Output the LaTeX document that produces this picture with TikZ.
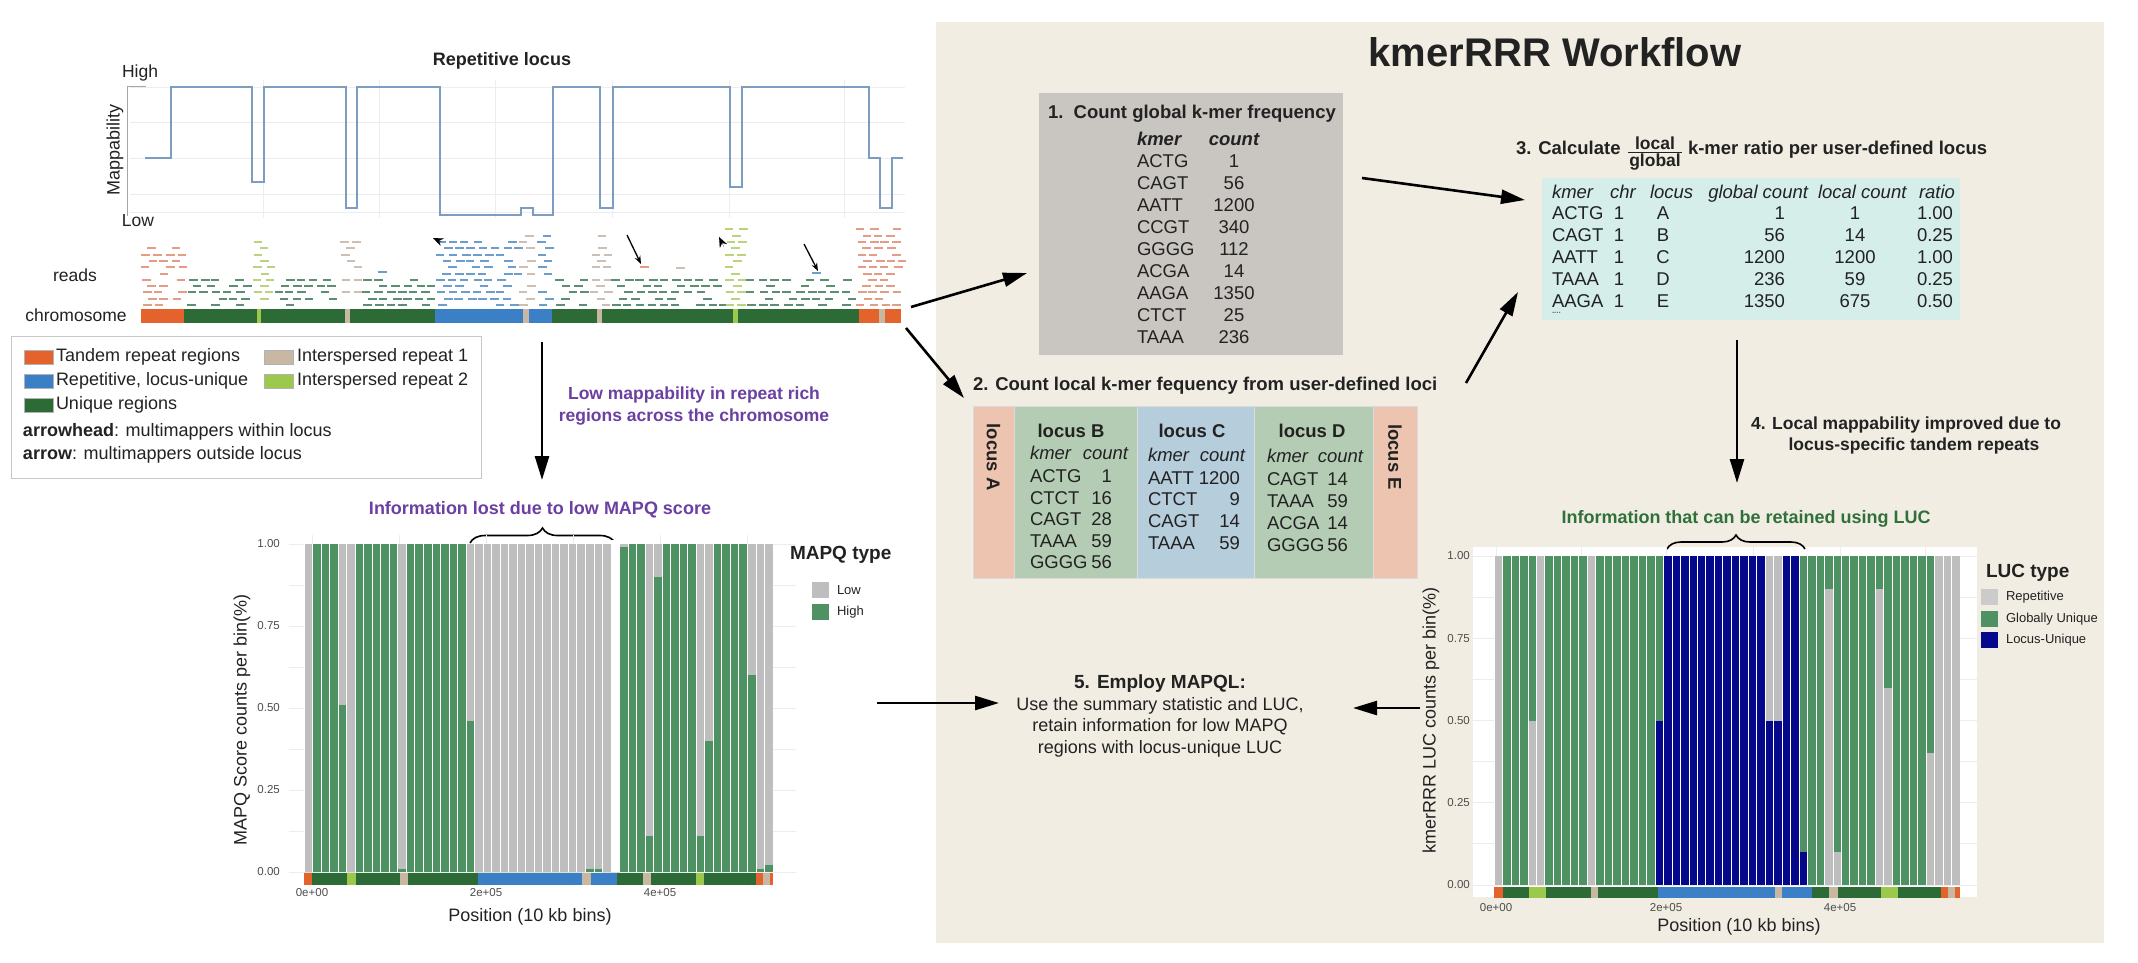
\documentclass[tikz,border=0pt]{standalone}
\usepackage{fontspec}
\setmainfont{Liberation Sans}
\usetikzlibrary{arrows.meta,decorations.pathreplacing}
\definecolor{cOr}{HTML}{E4632D}
\definecolor{cBl}{HTML}{3B7FC6}
\definecolor{cDG}{HTML}{2C6B36}
\definecolor{cTan}{HTML}{C8B7A2}
\definecolor{cLG}{HTML}{9CC94C}
\definecolor{barG}{HTML}{4E9162}
\definecolor{barGr}{HTML}{BEBEBE}
\definecolor{barB}{HTML}{06088C}
\definecolor{beige}{HTML}{F1EDE3}
\definecolor{boxone}{HTML}{C9C6C1}
\definecolor{boxthree}{HTML}{D5EEEA}
\definecolor{locAc}{HTML}{EDC4AF}
\definecolor{locGc}{HTML}{B4CCB4}
\definecolor{locCc}{HTML}{B6CDDC}
\definecolor{purp}{HTML}{6C3FA2}
\definecolor{grn}{HTML}{2F7139}
\definecolor{mapc}{HTML}{7D9DC0}
\definecolor{rdO}{HTML}{E59C84}
\definecolor{rdG}{HTML}{5B8E72}
\definecolor{rdB}{HTML}{6D9DCC}
\definecolor{rdT}{HTML}{CDBFB3}
\definecolor{rdLG}{HTML}{BBD37F}
\definecolor{tickc}{HTML}{4D4D4D}
\definecolor{txtc}{HTML}{222222}
% reads generator: x1, x2, ytop, colour
\newcommand\rreg[4]{%
  \pgfmathtruncatemacro\nr{(305-#3)/6.3}%
  \pgfmathtruncatemacro\nc{(#2-#1)/12}%
  \pgfmathsetmacro\xe{#2-7}%
  \foreach \r in {0,...,\nr}{%
    \foreach \c in {0,...,\nc}{%
      \pgfmathsetmacro\pp{rnd}%
      \pgfmathsetmacro\xx{#1+12*\c+6*mod(\r,2)+3*rnd-1.5}%
      \pgfmathsetmacro\yy{305-6.3*\r}%
      \ifdim\pp pt>0.22pt
        \ifdim\xx pt<\xe pt
          \draw[#4, line width=2pt] (\xx,\yy) -- ++(8.5,0);
        \fi
      \fi
    }%
  }%
}
\begin{document}
\begin{tikzpicture}[x=1pt,y=-1pt,
  tx/.style={inner sep=0pt, outer sep=0pt, text=txtc, font=\fontsize{18}{21.6}\selectfont},
  bt/.style={tx, font=\fontsize{18.5}{22}\selectfont\bfseries},
  bit/.style={tx, font=\fontsize{18.5}{22}\selectfont\bfseries\itshape},
  it/.style={tx, font=\fontsize{18.5}{22}\selectfont\itshape},
  rg/.style={tx, font=\fontsize{18.5}{22}\selectfont},
  sm/.style={tx, font=\fontsize{13}{15}\selectfont},
  tick/.style={inner sep=0pt, text=tickc, font=\fontsize{11.5}{13}\selectfont},
  axt/.style={tx, font=\fontsize{18}{21}\selectfont},
  bigarr/.style={line width=2.6pt, -{Triangle[length=24pt,width=14pt]}},
  thinarr/.style={line width=1.3pt, -{Stealth[length=8pt,width=6pt]}},
  cell/.style={inner sep=0pt, outer sep=0pt, anchor=north west, draw=black!14, line width=0.7pt},
  lkey/.style={inner sep=0pt, outer sep=0pt, minimum width=29pt, minimum height=14pt, draw=black!30, line width=0.4pt},
  pbrace/.style={decorate, decoration={brace, amplitude=15pt}, line width=1.6pt},
  grid/.style={black!7, line width=0.8pt}
]
\useasboundingbox (0,0) rectangle (2138,962);
\fill[white] (0,0) rectangle (2138,962);

% ================= beige workflow panel =================
\fill[beige] (936,22) rectangle (2104,943);
\node[tx, font=\fontsize{40}{46}\selectfont\bfseries] (title) at (1555,52) {kmerRRR Workflow};

% ================= left: mappability plot =================
\foreach \yy in {87,122,158,194,212}{\draw[grid] (130,\yy) -- (905,\yy);}
\foreach \xx in {263,379,495,612,729.5,844}{\draw[grid] (\xx,80) -- (\xx,218);}
\draw[black!35, line width=1pt] (146,86) -- (127,86) -- (127,216);
\node[bt, font=\fontsize{18}{21}\selectfont\bfseries] (replocus) at (502,61) {Repetitive locus};
\node[tx, font=\fontsize{17.5}{21}\selectfont] (high) at (140,73) {High};
\node[tx, font=\fontsize{17.5}{21}\selectfont] (low) at (138,221) {Low};
\node[tx, font=\fontsize{18}{21}\selectfont, rotate=90] (mapl) at (115,150) {Mappability};
\draw[mapc, line width=1.4pt, line join=miter]
  (145,158) -- (171,158) -- (171,87) -- (252,87) -- (252,182) -- (264,182) -- (264,87)
  -- (346,87) -- (346,208) -- (357,208) -- (357,87) -- (440,87) -- (440,215) -- (521,215)
  -- (521,208) -- (533,208) -- (533,215) -- (553,215) -- (553,87) -- (600,87) -- (600,208)
  -- (613,208) -- (613,87) -- (730,87) -- (730,187) -- (742,187) -- (742,87) -- (869,87)
  -- (869,158) -- (880,158) -- (880,208) -- (892,208) -- (892,158) -- (903,158);

% reads
\pgfmathsetseed{11}
\rreg{142}{188}{242}{rdO}
\rreg{188}{253}{277}{rdG}
\rreg{274}{340}{277}{rdG}
\rreg{362}{436}{277}{rdG}
\rreg{254}{274}{232}{rdLG}
\rreg{341}{362}{233}{rdT}
\rreg{437}{522}{240}{rdB}
\rreg{520}{538}{232}{rdT}
\rreg{538}{555}{232}{rdB}
\rreg{556}{591}{277}{rdG}
\rreg{591}{612}{231}{rdT}
\rreg{612}{726}{277}{rdG}
\rreg{726}{747}{229}{rdLG}
\rreg{747}{857}{277}{rdG}
\rreg{857}{905}{229}{rdO}
\draw[rdO, line width=2pt] (640,267) -- ++(9,0);
\draw[rdT, line width=2pt] (676,268) -- ++(9,0);
\draw[rdB, line width=2pt] (812,273) -- ++(9,0);
\draw[rdB, line width=2pt] (378,272) -- ++(9,0);
% arrowheads and arrows on reads
\coordinate (ah1a) at (442,242); \coordinate (ah1b) at (433,238);
\coordinate (ah2a) at (724,247); \coordinate (ah2b) at (719,237);
\draw[line width=0.1pt, -{Stealth[length=10pt,width=8pt]}] (ah1a) -- (ah1b);
\draw[line width=0.1pt, -{Stealth[length=10pt,width=8pt]}] (ah2a) -- (ah2b);
\coordinate (ra1s) at (627,235); \coordinate (ra1e) at (641,264);
\coordinate (ra2s) at (804,244); \coordinate (ra2e) at (818,271);
\draw[thinarr] (ra1s) -- (ra1e);
\draw[thinarr] (ra2s) -- (ra2e);

% chromosome bar
\foreach \a/\b/\c in {141/184/cOr,184/257/cDG,257/261/cLG,261/345/cDG,345/350/cTan,350/435/cDG,
  435/523/cBl,523/529/cTan,529/552/cBl,552/597/cDG,597/602/cTan,602/733/cDG,733/738/cLG,
  738/858.6/cDG,858.6/879/cOr,879/885/cTan,885/901/cOr}{\fill[\c] (\a,309) rectangle (\b,323);}
\node[tx, font=\fontsize{17.5}{21}\selectfont] (readsl) at (75,275) {reads};
\node[tx, font=\fontsize{17.5}{21}\selectfont] (chroml) at (76,315) {chromosome};

% legend box
\node[inner sep=0pt, outer sep=0pt, anchor=north west, draw=black!22, line width=1pt,
  minimum width=470pt, minimum height=142pt] (legbox) at (11,336) {};
\node[lkey, fill=cOr] (k1) at (38.5,357) {};
\node[tx, anchor=west] (k1t) at (56,357) {Tandem repeat regions};
\node[lkey, fill=cTan] (k2) at (279,357) {};
\node[tx, anchor=west] (k2t) at (297,357) {Interspersed repeat 1};
\node[lkey, fill=cBl] (k3) at (38.5,381) {};
\node[tx, anchor=west] (k3t) at (56,381) {Repetitive, locus-unique};
\node[lkey, fill=cLG] (k4) at (279,381) {};
\node[tx, anchor=west] (k4t) at (297,381) {Interspersed repeat 2};
\node[lkey, fill=cDG] (k5) at (38.5,405) {};
\node[tx, anchor=west] (k5t) at (56,405) {Unique regions};
\node[tx, anchor=west] (k6t) at (23,432) {\textbf{arrowhead}: multimappers within locus};
\node[tx, anchor=west] (k7t) at (23,455) {\textbf{arrow}: multimappers outside locus};

% left down arrow and purple text
\coordinate (a6s) at (542,342); \coordinate (a6e) at (542,480);
\draw[bigarr] (a6s) -- (a6e);
\node[tx, font=\fontsize{17.5}{21.5}\selectfont\bfseries, text=purp, align=center] (lowmap) at (694,406)
  {Low mappability in repeat rich\\regions across the chromosome};
\node[tx, font=\fontsize{18}{21}\selectfont\bfseries, text=purp] (infolost) at (540,510) {Information lost due to low MAPQ score};
\draw[pbrace] (470,543) -- (615,543);

% ================= MAPQ plot =================
\foreach \v in {0,0.125,...,1.01}{\draw[grid] (289,{872-328*\v}) -- (796,{872-328*\v});}
\foreach \xx in {312,399,486,573,660,747}{\draw[grid] (\xx,535) -- (\xx,886);}
\foreach \f [count=\i from 0] in {0,1,1,1,.51,0,1,1,1,1,1,.01,1,1,1,1,1,1,1,.46,0,0,0,0,0,0,0,0,0,0,0,0,0,.01,.01,0,0,.99,1,1,.11,.9,1,1,1,1,.11,.4,1,1,1,1,.6,.01,.02}{
  \pgfmathsetmacro\xl{304+\i*8.527}
  \fill[barGr] (\xl,544) rectangle ++(8.527,328);
  \fill[barG] (\xl,872) rectangle ++(8.527,-328*\f);
  \draw[white, line width=0.8pt] (\xl,544) -- (\xl,872);
}
\fill[white] (611,540) rectangle (619.6,872);
\foreach \a/\b/\c in {304/312/cOr,312/347/cDG,347/356/cLG,356/400/cDG,400/408/cTan,408/478/cDG,
  478/582/cBl,582/591/cTan,591/617/cBl,617/643/cDG,643/651/cTan,651/695.5/cDG,695.5/703.5/cLG,
  703.5/756/cDG,756/763/cOr,763/770/cTan,770/773/cOr}{\fill[\c] (\a,873) rectangle (\b,885);}
\foreach \v/\lab in {0/0.00,0.25/0.25,0.5/0.50,0.75/0.75,1/1.00}{
  \node[tick, anchor=east] (mq\lab) at (280,{872-328*\v}) {\lab};}
\node[tick] (mqx0) at (312,893) {0e+00};
\node[tick] (mqx2) at (486,893) {2e+05};
\node[tick] (mqx4) at (660,893) {4e+05};
\node[axt] (mqxt) at (530,917) {Position (10 kb bins)};
\node[axt, rotate=90] (mqyt) at (242,720) {MAPQ Score counts per bin(\%)};
\node[tx, font=\fontsize{19}{22}\selectfont\bfseries, anchor=base west] (mqleg) at (790,559) {MAPQ type};
\node[lkey, draw=none, minimum width=17pt, minimum height=16pt, fill=barGr] (mqk1) at (820.5,590) {};
\node[sm, anchor=west] (mqk1t) at (837,590) {Low};
\node[lkey, draw=none, minimum width=17pt, minimum height=16pt, fill=barG] (mqk2) at (820.5,612) {};
\node[sm, anchor=west] (mqk2t) at (837,612) {High};

% ================= step 1 box =================
\node[inner sep=0pt, outer sep=0pt, anchor=north west, fill=boxone, minimum width=304pt, minimum height=262pt] (box1) at (1039,93) {};
\node[bt, anchor=base west] (b1t) at (1048,118) {1.\ \ Count global k-mer frequency};
\node[bit, anchor=base west] (b1hk) at (1137,145) {kmer};
\node[bit, anchor=base] (b1hc) at (1234,145) {count};
\foreach \k/\c [count=\i from 0] in {ACTG/1,CAGT/56,AATT/1200,CCGT/340,GGGG/112,ACGA/14,AAGA/1350,CTCT/25,TAAA/236}{
  \node[rg, anchor=base west] (bk\i) at (1137,{167+22.1*\i}) {\k};
  \node[rg, anchor=base] (bc\i) at (1234,{167+22.1*\i}) {\c};
}

% ================= step 3 =================
\node[bt, anchor=base west] (s3a) at (1516,154) {3. Calculate};
\node[tx, font=\fontsize{17.5}{20}\selectfont\bfseries, anchor=base] (s3num) at (1655,149) {local};
\draw[txtc, line width=1.4pt] (1628,152.5) -- (1682,152.5);
\node[tx, font=\fontsize{17.5}{20}\selectfont\bfseries, anchor=base] (s3den) at (1655,166) {global};
\node[bt, anchor=base west] (s3b) at (1688,154) {k-mer ratio per user-defined locus};
\node[inner sep=0pt, outer sep=0pt, anchor=north west, fill=boxthree, minimum width=418pt, minimum height=142pt] (box3) at (1542,178) {};
\node[it, anchor=base west] (h1) at (1552,198) {kmer};
\node[it, anchor=base west] (h2) at (1610,198) {chr};
\node[it, anchor=base west] (h3) at (1650,198) {locus};
\node[it, anchor=base east] (h4) at (1808,198) {global count};
\node[it, anchor=base west] (h5) at (1818,198) {local count};
\node[it, anchor=base east] (h6) at (1955,198) {ratio};
\foreach \k/\l/\g/\lc/\r [count=\i from 0] in {ACTG/A/1/1/1.00,CAGT/B/56/14/0.25,AATT/C/1200/1200/1.00,TAAA/D/236/59/0.25,AAGA/E/1350/675/0.50}{
  \node[rg, anchor=base west] (r\i a) at (1552,{219.5+22*\i}) {\k};
  \node[rg, anchor=base] (r\i b) at (1619,{219.5+22*\i}) {1};
  \node[rg, anchor=base] (r\i c) at (1663,{219.5+22*\i}) {\l};
  \node[rg, anchor=base east] (r\i d) at (1785,{219.5+22*\i}) {\g};
  \node[rg, anchor=base] (r\i e) at (1855,{219.5+22*\i}) {\lc};
  \node[rg, anchor=base east] (r\i f) at (1953,{219.5+22*\i}) {\r};
}
\node[tx, font=\fontsize{8}{9}\selectfont\bfseries, anchor=west, text=black!60] (dots) at (1552,313) {....};

% ================= step 2 =================
\node[bt, anchor=base west] (s2) at (973,390) {2. Count local k-mer fequency from user-defined loci};
\node[cell, fill=locAc, minimum width=41pt, minimum height=172pt] (locA) at (973,406) {};
\node[cell, fill=locGc, minimum width=123pt, minimum height=172pt] (locB) at (1014,406) {};
\node[cell, fill=locCc, minimum width=117pt, minimum height=172pt] (locC) at (1137,406) {};
\node[cell, fill=locGc, minimum width=119pt, minimum height=172pt] (locD) at (1254,406) {};
\node[cell, fill=locAc, minimum width=44pt, minimum height=172pt] (locE) at (1373,406) {};
\node[bt, rotate=-90] (locAt) at (993.5,457) {locus A};
\node[bt, rotate=-90] (locEt) at (1395,457) {locus E};
\node[bt, anchor=base] (locBt) at (1071,437) {locus B};
\node[bt, anchor=base] (locCt) at (1192,437) {locus C};
\node[bt, anchor=base] (locDt) at (1312,437) {locus D};
\node[it, anchor=base west] (lBk) at (1030,459) {kmer};
\node[it, anchor=base east] (lBc) at (1128,459) {count};
\node[it, anchor=base west] (lCk) at (1148,461) {kmer};
\node[it, anchor=base east] (lCc) at (1245,461) {count};
\node[it, anchor=base west] (lDk) at (1267,462) {kmer};
\node[it, anchor=base east] (lDc) at (1363,462) {count};
\foreach \k/\c [count=\i from 0] in {ACTG/1,CTCT/16,CAGT/28,TAAA/59,GGGG/56}{
  \node[rg, anchor=base west] (lb\i) at (1030,{482.5+21.5*\i}) {\k};
  \node[rg, anchor=base east] (lbc\i) at (1112,{482.5+21.5*\i}) {\c};
}
\foreach \k/\c [count=\i from 0] in {AATT/1200,CTCT/9,CAGT/14,TAAA/59}{
  \node[rg, anchor=base west] (lc\i) at (1148,{484+21.8*\i}) {\k};
  \node[rg, anchor=base east] (lcc\i) at (1240,{484+21.8*\i}) {\c};
}
\foreach \k/\c [count=\i from 0] in {CAGT/14,TAAA/59,ACGA/14,GGGG/56}{
  \node[rg, anchor=base west] (ld\i) at (1267,{485+22*\i}) {\k};
  \node[rg, anchor=base east] (ldc\i) at (1348,{485+22*\i}) {\c};
}

% ================= step 4 =================
\node[tx, font=\fontsize{17.5}{21}\selectfont\bfseries, anchor=base] (s4a) at (1906,429) {4. Local mappability improved due to};
\node[tx, font=\fontsize{17.5}{21}\selectfont\bfseries, anchor=base] (s4b) at (1914,450) {locus-specific tandem repeats};
\node[tx, font=\fontsize{18}{21}\selectfont\bfseries, text=grn] (inforet) at (1746,519) {Information that can be retained using LUC};

% ================= LUC plot =================
\fill[white] (1473,547) rectangle (1977,897);
\draw[pbrace, decoration={brace, amplitude=14pt}] (1667,549) -- (1805,549);
\foreach \v in {0,0.125,...,1.01}{\draw[grid] (1473,{885-329*\v}) -- (1977,{885-329*\v});}
\foreach \xx in {1496,1581,1666,1753,1840,1925}{\draw[grid] (\xx,547) -- (\xx,897);}
\foreach \ca/\f/\cb [count=\i from 0] in {barGr/1/barGr,barG/1/barG,barG/1/barG,barG/1/barG,barGr/.5/barG,barGr/1/barGr,
  barG/1/barG,barG/1/barG,barG/1/barG,barG/1/barG,barG/1/barG,barGr/1/barGr,
  barG/1/barG,barG/1/barG,barG/1/barG,barG/1/barG,barG/1/barG,barG/1/barG,barG/1/barG,barB/.5/barG,
  barB/1/barB,barB/1/barB,barB/1/barB,barB/1/barB,barB/1/barB,barB/1/barB,barB/1/barB,barB/1/barB,barB/1/barB,barB/1/barB,barB/1/barB,barB/1/barB,
  barB/.5/barGr,barB/.5/barGr,barB/1/barB,barB/1/barB,barB/.1/barG,barG/1/barG,barG/1/barG,barGr/.9/barG,barGr/.1/barG,
  barG/1/barG,barG/1/barG,barG/1/barG,barG/1/barG,barGr/.9/barG,barGr/.6/barG,
  barG/1/barG,barG/1/barG,barG/1/barG,barG/1/barG,barGr/.4/barG,barGr/1/barGr,barGr/1/barGr,barGr/1/barGr}{
  \pgfmathsetmacro\xl{1494+\i*8.473}
  \fill[\cb] (\xl,556) rectangle ++(8.473,329);
  \fill[\ca] (\xl,885) rectangle ++(8.473,-329*\f);
  \draw[white, line width=0.8pt] (\xl,556) -- (\xl,885);
}
\foreach \a/\b/\c in {1494/1503/cOr,1503/1529/cDG,1529/1546/cLG,1546/1591/cDG,1591/1598/cTan,1598/1658/cDG,
  1658/1775/cBl,1775/1782/cTan,1782/1812/cBl,1812/1829/cDG,1829/1838/cTan,1838/1881/cDG,1881/1898/cLG,
  1898/1941/cDG,1941/1948/cOr,1948/1955/cTan,1955/1960/cOr}{\fill[\c] (\a,887) rectangle (\b,898);}
\foreach \v/\lab in {0/0.00,0.25/0.25,0.5/0.50,0.75/0.75,1/1.00}{
  \node[tick, anchor=east] (lq\lab) at (1470,{885-329*\v}) {\lab};}
\node[tick] (lqx0) at (1496,908) {0e+00};
\node[tick] (lqx2) at (1666,908) {2e+05};
\node[tick] (lqx4) at (1840,908) {4e+05};
\node[axt] (lqxt) at (1739,927) {Position (10 kb bins)};
\node[axt, rotate=90] (lqyt) at (1431,720) {kmerRRR LUC counts per bin(\%)};
\node[tx, font=\fontsize{19}{22}\selectfont\bfseries, anchor=base west] (lqleg) at (1986,577) {LUC type};
\node[lkey, draw=none, minimum width=17pt, minimum height=16pt, fill=barGr!80] (lqk1) at (1989.5,597) {};
\node[sm, anchor=west] (lqk1t) at (2006,597) {Repetitive};
\node[lkey, draw=none, minimum width=17pt, minimum height=16pt, fill=barG] (lqk2) at (1989.5,619) {};
\node[sm, anchor=west] (lqk2t) at (2006,619) {Globally Unique};
\node[lkey, draw=none, minimum width=17pt, minimum height=16pt, fill=barB] (lqk3) at (1989.5,640) {};
\node[sm, anchor=west] (lqk3t) at (2006,640) {Locus-Unique};

% ================= step 5 =================
\node[tx, align=center] (s5) at (1160,716)
  {{\fontsize{19}{21.6}\selectfont\bfseries 5. Employ MAPQL:}\\Use the summary statistic and LUC,\\retain information for low MAPQ\\regions with locus-unique LUC};

% ================= workflow arrows =================
\coordinate (a1s) at (911,307); \coordinate (a1e) at (1027,273);
\coordinate (a2s) at (906,328); \coordinate (a2e) at (964,398);
\coordinate (a3s) at (1362,178); \coordinate (a3e) at (1525,200);
\coordinate (a4s) at (1466,383); \coordinate (a4e) at (1518,292);
\coordinate (a5s) at (1737,340); \coordinate (a5e) at (1737,483);
\coordinate (a7s) at (877,703); \coordinate (a7e) at (999,703);
\coordinate (a8s) at (1420,708); \coordinate (a8e) at (1353,708);
\draw[bigarr] (a1s) -- (a1e);
\draw[bigarr] (a2s) -- (a2e);
\draw[bigarr] (a3s) -- (a3e);
\draw[bigarr] (a4s) -- (a4e);
\draw[bigarr] (a5s) -- (a5e);
\draw[bigarr] (a7s) -- (a7e);
\draw[bigarr] (a8s) -- (a8e);
\end{tikzpicture}
\end{document}
